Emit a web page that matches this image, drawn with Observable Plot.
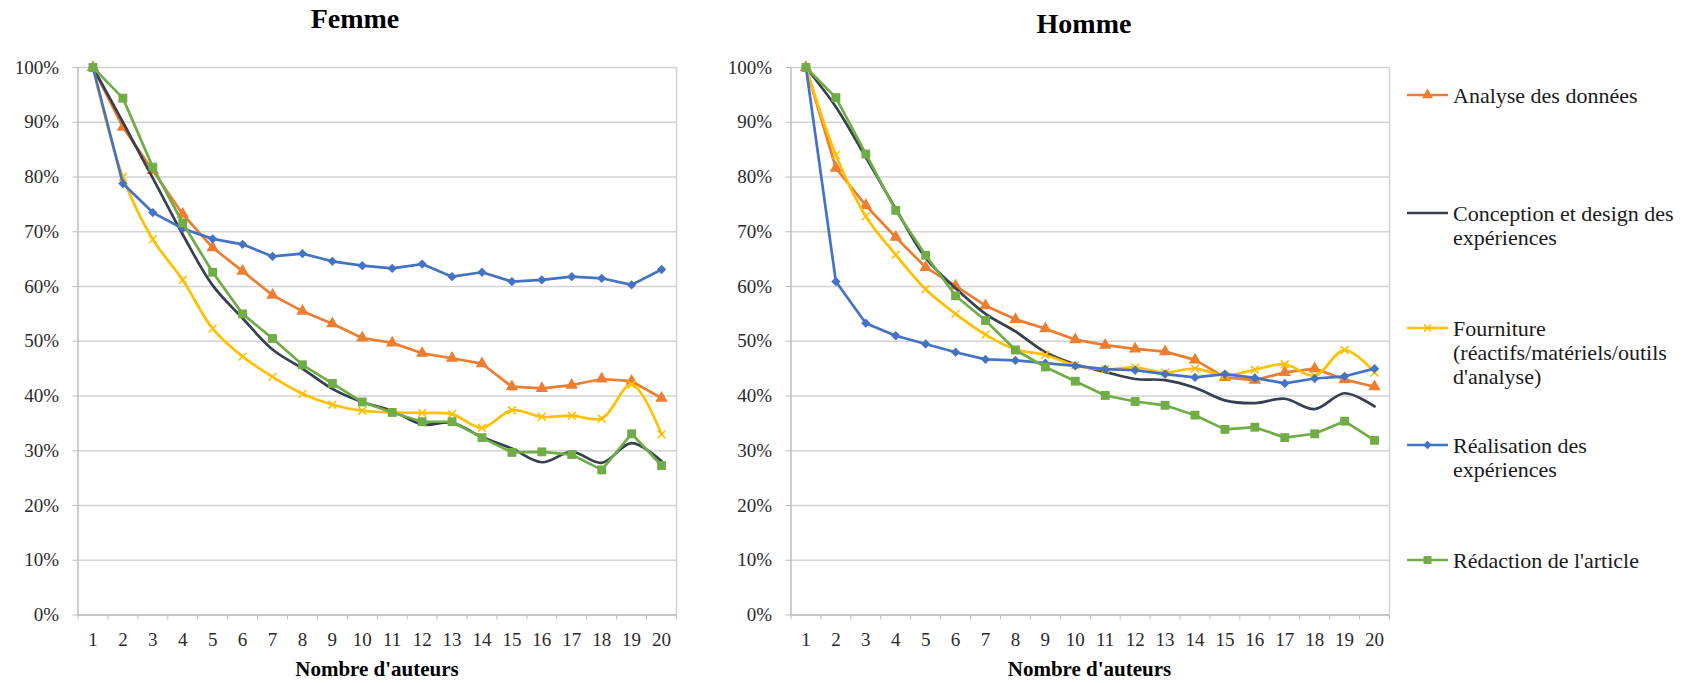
<!DOCTYPE html>
<html><head><meta charset="utf-8">
<script src="https://cdn.jsdelivr.net/npm/d3@7"></script>
<script src="https://cdn.jsdelivr.net/npm/@observablehq/plot@0.6"></script>
<style>
html,body{margin:0;padding:0;background:#fff;}
#wrap{position:relative;width:1692px;height:683px;overflow:hidden;font-family:"Liberation Serif","Times New Roman",serif;}
#wrap svg, #wrap svg text{font-family:"Liberation Serif","Times New Roman",serif !important;}
.panel{position:absolute;top:0;}
#overlay{position:absolute;left:0;top:0;}
</style></head><body><div id="wrap"></div>
<script>
// ---------- data ----------
const categories = [1,2,3,4,5,6,7,8,9,10,11,12,13,14,15,16,17,18,19,20];
const yTickValues = [0,10,20,30,40,50,60,70,80,90,100];
const panelTitles = ["Femme", "Homme"];
const xAxisLabel = "Nombre d'auteurs";
const seriesNames = ["Analyse des données", "Conception et design des expériences", "Fourniture (réactifs/matériels/outils d'analyse)", "Réalisation des expériences", "Rédaction de l'article"];
const legendLines = [["Analyse des données"], ["Conception et design des", "expériences"], ["Fourniture", "(réactifs/matériels/outils", "d'analyse)"], ["Réalisation des", "expériences"], ["Rédaction de l'article"]];

// Femme (%)
const analyseF     = [100, 89.1, 81.2, 73.2, 67.1, 62.8, 58.4, 55.5, 53.2, 50.6, 49.7, 47.8, 46.9, 45.9, 41.7, 41.4, 42.0, 43.1, 42.7, 39.6];
const conceptionF  = [100, 90.0, 79.8, 69.5, 60.2, 54.2, 48.5, 45.0, 41.3, 38.9, 37.3, 34.8, 35.1, 32.5, 30.4, 27.9, 29.8, 27.8, 31.4, 28.1];
const fournitureF  = [100, 80.0, 68.6, 61.2, 52.3, 47.2, 43.5, 40.4, 38.4, 37.3, 37.0, 36.9, 36.7, 34.2, 37.4, 36.2, 36.4, 35.9, 42.1, 33.0];
const realisationF = [100, 78.8, 73.5, 70.6, 68.7, 67.7, 65.5, 66.0, 64.6, 63.8, 63.3, 64.1, 61.8, 62.6, 60.9, 61.2, 61.8, 61.5, 60.3, 63.1];
const redactionF   = [100, 94.4, 81.8, 71.6, 62.6, 55.0, 50.5, 45.7, 42.3, 38.9, 37.0, 35.3, 35.3, 32.4, 29.7, 29.8, 29.3, 26.5, 33.1, 27.3];
// Homme (%)
const analyseH     = [100, 81.6, 74.8, 69.0, 63.5, 60.1, 56.5, 54.0, 52.3, 50.3, 49.3, 48.6, 48.1, 46.6, 43.4, 42.9, 44.3, 45.0, 43.0, 41.7];
const conceptionH  = [100, 92.8, 83.6, 74.2, 65.2, 59.7, 55.0, 51.8, 48.0, 45.8, 44.4, 43.1, 42.9, 41.5, 39.2, 38.7, 39.5, 37.6, 40.5, 38.1];
const fournitureH  = [100, 84.0, 72.8, 65.8, 59.5, 55.0, 51.2, 48.5, 47.5, 45.6, 44.9, 45.2, 44.3, 45.0, 43.8, 44.8, 45.8, 43.7, 48.4, 44.3];
const realisationH = [100, 60.9, 53.3, 51.0, 49.5, 48.0, 46.7, 46.5, 46.0, 45.5, 44.9, 44.7, 44.0, 43.4, 44.0, 43.3, 42.3, 43.2, 43.6, 45.0];
const redactionH   = [100, 94.5, 84.2, 73.9, 65.7, 58.3, 53.8, 48.4, 45.3, 42.7, 40.1, 39.0, 38.3, 36.5, 33.9, 34.3, 32.4, 33.1, 35.4, 31.9];

const panelValues = [
  [analyseF, conceptionF, fournitureF, realisationF, redactionF],
  [analyseH, conceptionH, fournitureH, realisationH, redactionH]
];

// ---------- styles ----------
const seriesStyle = [
  {color: "#ED7D31", symbol: "triangle", filled: true, r: 4.6, curve: "linear"},
  {color: "#36404F", symbol: null, filled: false, r: 0, curve: "catmull-rom"},
  {color: "#FFC000", symbol: "times", filled: false, r: 3.6, curve: "catmull-rom"},
  {color: "#4472C4", symbol: "diamond2", filled: true, r: 4.2, curve: "linear"},
  {color: "#70AD47", symbol: "square", filled: true, r: 5.0, curve: "linear"}
];
const GRID = "#d3d3d3", AXIS = "#bdbdbd", TEXT = "#2a2a2a";
const LW = 2.7;
const FONT = "'Liberation Serif', 'Times New Roman', serif";
const bounds = categories.map(c => c - 0.5).concat([categories[categories.length - 1] + 0.5]);

const wrap = document.getElementById("wrap");

function makePanel(values) {
  const rows = [];
  values.forEach((arr, si) => arr.forEach((v, i) => rows.push({s: si, n: categories[i], v})));
  const marks = [
    Plot.gridY({ticks: yTickValues, stroke: GRID, strokeOpacity: 1, strokeWidth: 1.5}),
    Plot.ruleX([bounds[bounds.length - 1]], {stroke: GRID, strokeWidth: 1.5}),
    Plot.ruleX([bounds[0]], {stroke: AXIS, strokeWidth: 1.5}),
    Plot.ruleY([0], {stroke: AXIS, strokeWidth: 1.5}),
    Plot.axisY({ticks: yTickValues, tickSize: 5, tickPadding: 14, tickFormat: d => d + "%", stroke: AXIS, fill: TEXT, label: null, fontFamily: FONT, fontSize: 19}),
    Plot.axisX({ticks: bounds, tickSize: 5, tickFormat: () => "", stroke: AXIS, label: null}),
    Plot.axisX({ticks: categories, tickSize: 0, tickPadding: 17, tickFormat: d => String(d), fill: TEXT, label: null, fontFamily: FONT, fontSize: 19})
  ];
  seriesStyle.forEach((st, si) => {
    const d = rows.filter(r => r.s === si);
    marks.push(Plot.line(d, {x: "n", y: "v", stroke: st.color, strokeWidth: LW, curve: st.curve, strokeLinejoin: "round"}));
    if (st.symbol) {
      marks.push(Plot.dot(d, st.filled
        ? {x: "n", y: "v", symbol: st.symbol, r: st.r, fill: st.color, stroke: "none"}
        : {x: "n", y: "v", symbol: st.symbol, r: st.r, fill: "none", stroke: st.color, strokeWidth: 1.6}));
    }
  });
  return Plot.plot({
    width: 700, height: 683,
    marginLeft: 77.5, marginRight: 24, marginTop: 67, marginBottom: 68.5,
    style: {fontFamily: FONT, fontSize: "19px", color: TEXT, background: "transparent", overflow: "visible"},
    x: {domain: [bounds[0], bounds[bounds.length - 1]], axis: null, label: null},
    y: {domain: [0, 100], axis: null, label: null},
    marks
  });
}

const offsets = [0, 712.5];
panelValues.forEach((vals, p) => {
  const el = makePanel(vals);
  el.classList.add("panel");
  el.style.left = offsets[p] + "px";
  wrap.appendChild(el);
});

// ---------- overlay: titles, axis labels, legend ----------
const svg = d3.select(wrap).append("svg").attr("id", "overlay").attr("width", 1692).attr("height", 683)
  .style("font-family", FONT);

const titlePos = [{x: 355, y: 28}, {x: 1084, y: 33}];
panelTitles.forEach((t, i) => {
  svg.append("text").attr("x", titlePos[i].x).attr("y", titlePos[i].y).attr("text-anchor", "middle")
    .attr("font-size", 28).attr("font-weight", "bold").attr("fill", "#000").text(t);
});
const labelX = [377, 1089.5];
labelX.forEach(x => {
  svg.append("text").attr("x", x).attr("y", 676).attr("text-anchor", "middle")
    .attr("font-size", 21).attr("font-weight", "bold").attr("fill", "#000").text(xAxisLabel);
});

const legendY = [95, 213, 328, 445, 560];
seriesStyle.forEach((st, i) => {
  const g = svg.append("g").attr("transform", `translate(0,${legendY[i]})`);
  g.append("line").attr("x1", 1407).attr("x2", 1448).attr("y1", 0).attr("y2", 0)
    .attr("stroke", st.color).attr("stroke-width", LW);
  if (st.symbol) {
    const types = {triangle: d3.symbolTriangle, times: d3.symbolTimes, diamond2: d3.symbolDiamond2, square: d3.symbolSquare};
    const path = d3.symbol(types[st.symbol], st.r * st.r * Math.PI * 0.8)();
    const m = g.append("path").attr("d", path).attr("transform", "translate(1427.5,0)");
    if (st.filled) m.attr("fill", st.color); else m.attr("fill", "none").attr("stroke", st.color).attr("stroke-width", 1.6);
  }
  legendLines[i].forEach((ln, k) => {
    g.append("text").attr("x", 1453).attr("y", 7.5 + k * 24).attr("font-size", 22).attr("fill", "#1a1a1a").text(ln);
  });
});
</script></body></html>
